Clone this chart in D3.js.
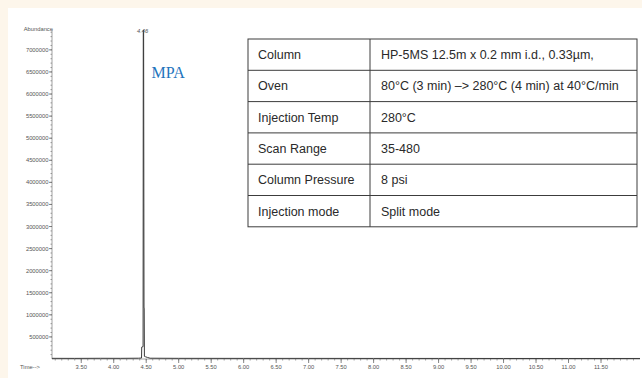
<!DOCTYPE html>
<html>
<head>
<meta charset="utf-8">
<script src="https://cdn.jsdelivr.net/npm/d3@7"></script>
<style>
  html, body { margin: 0; padding: 0; background: #fdf6eb; }
  svg { display: block; }
</style>
</head>
<body>
<div id="chart"></div>
<script>
var width = 642;
var height = 378;

// chromatogram trace (retention time in min, abundance)
var times     = [3.05, 3.40, 3.80, 4.10, 4.38, 4.428, 4.431, 4.452, 4.455, 4.460, 4.466, 4.469, 4.472, 4.49, 4.52, 4.56, 5.00, 6.00, 7.00, 8.00, 9.00, 10.00, 11.00, 12.10];
var abundance = [15000, 14000, 16000, 15000, 18000, 22000, 270000, 280000, 7450000, 7450000, 1150000, 1150000, 60000, 50000, 35000, 18000, 15000, 14000, 14000, 13000, 13000, 12000, 12000, 12000];

var yTicks = [500000, 1000000, 1500000, 2000000, 2500000, 3000000, 3500000, 4000000, 4500000, 5000000, 5500000, 6000000, 6500000, 7000000];
var xTicks = [3.5, 4.0, 4.5, 5.0, 5.5, 6.0, 6.5, 7.0, 7.5, 8.0, 8.5, 9.0, 9.5, 10.0, 10.5, 11.0, 11.5];

var peakTime = 4.46;
var peakLabel = "4.46";
var compound = "MPA";

// GC-MS conditions table
var paramNames  = ["Column", "Oven", "Injection Temp", "Scan Range", "Column Pressure", "Injection mode"];
var paramValues = ["HP-5MS 12.5m x 0.2 mm i.d., 0.33\u00b5m,", "80\u00b0C (3 min) \u2013> 280\u00b0C (4 min) at 40\u00b0C/min", "280\u00b0C", "35-480", "8 psi", "Split mode"];

var svg = d3.select("#chart").append("svg")
  .attr("width", width)
  .attr("height", height);

svg.append("rect")
  .attr("x", 0).attr("y", 0)
  .attr("width", width).attr("height", height)
  .attr("fill", "#fdf6eb");
svg.append("rect")
  .attr("x", 8).attr("y", 8)
  .attr("width", width - 8).attr("height", height - 8)
  .attr("fill", "#ffffff");

var x = d3.scaleLinear().domain([3.05, 12.1]).range([52, 640]);
var y = d3.scaleLinear().domain([0, 7450000]).range([359, 30]);

var labelFont = "Liberation Sans, Arial, sans-serif";

// y axis
var yAxis = svg.append("g").attr("transform", "translate(" + x.range()[0] + ",0)");
yAxis.append("line")
  .attr("y1", y.range()[0]).attr("y2", y.range()[1])
  .attr("stroke", "#8a8a8a").attr("stroke-width", 0.8);
yAxis.selectAll("line.minor")
  .data(d3.range(100000, 7450000, 100000))
  .enter().append("line")
  .attr("class", "minor")
  .attr("x1", -1.5).attr("x2", 0)
  .attr("y1", d => y(d)).attr("y2", d => y(d))
  .attr("stroke", "#777").attr("stroke-width", 0.7);
yAxis.selectAll("line.major")
  .data(yTicks)
  .enter().append("line")
  .attr("class", "major")
  .attr("x1", -3).attr("x2", 0)
  .attr("y1", d => y(d)).attr("y2", d => y(d))
  .attr("stroke", "#666").attr("stroke-width", 0.8);
yAxis.selectAll("text.tick")
  .data(yTicks)
  .enter().append("text")
  .attr("class", "tick")
  .attr("x", -3.5)
  .attr("y", d => y(d) + 2)
  .attr("text-anchor", "end")
  .attr("font-family", labelFont)
  .attr("font-size", 5.8)
  .attr("fill", "#555")
  .text(d => d);
yAxis.append("text")
  .attr("x", 1).attr("y", 31)
  .attr("text-anchor", "end")
  .attr("font-family", labelFont)
  .attr("font-size", 5.8)
  .attr("fill", "#555")
  .text("Abundance");

// x axis
var xAxis = svg.append("g").attr("transform", "translate(0," + y(0) + ")");
xAxis.append("line")
  .attr("x1", x.range()[0]).attr("x2", x.range()[1])
  .attr("stroke", "#8a8a8a").attr("stroke-width", 0.8);
xAxis.selectAll("line.minor")
  .data(d3.range(3.1, 12.1, 0.1))
  .enter().append("line")
  .attr("class", "minor")
  .attr("x1", d => x(d)).attr("x2", d => x(d))
  .attr("y1", 0).attr("y2", 1.5)
  .attr("stroke", "#777").attr("stroke-width", 0.7);
xAxis.selectAll("line.major")
  .data(xTicks)
  .enter().append("line")
  .attr("class", "major")
  .attr("x1", d => x(d)).attr("x2", d => x(d))
  .attr("y1", 0).attr("y2", 4)
  .attr("stroke", "#666").attr("stroke-width", 0.8);
xAxis.selectAll("text.tick")
  .data(xTicks)
  .enter().append("text")
  .attr("class", "tick")
  .attr("x", d => x(d))
  .attr("y", 10)
  .attr("text-anchor", "middle")
  .attr("font-family", labelFont)
  .attr("font-size", 5.8)
  .attr("fill", "#555")
  .text(d => d3.format(".2f")(d));
xAxis.append("text")
  .attr("x", 30).attr("y", 10)
  .attr("text-anchor", "middle")
  .attr("font-family", labelFont)
  .attr("font-size", 5.8)
  .attr("fill", "#555")
  .text("Time-->");

// trace
var line = d3.line()
  .x((d, i) => x(times[i]))
  .y(d => y(d));
svg.append("path")
  .datum(abundance)
  .attr("d", line)
  .attr("fill", "none")
  .attr("stroke", "#3a3a3a")
  .attr("stroke-width", 1);

// peak annotation
svg.append("text")
  .attr("x", x(peakTime) - 1)
  .attr("y", y(d3.max(abundance)) + 3)
  .attr("text-anchor", "middle")
  .attr("font-family", labelFont)
  .attr("font-style", "italic")
  .attr("font-size", 5.8)
  .attr("fill", "#555")
  .text(peakLabel);
svg.append("text")
  .attr("x", x(peakTime) + 8)
  .attr("y", 78)
  .attr("font-family", "Liberation Serif, Times New Roman, serif")
  .attr("font-size", 16)
  .attr("fill", "#1f74bd")
  .text(compound);

// conditions table
var tableX = 248, tableW = 389, divX = 122, tableY = 39, rowH = 31.3;
var table = svg.append("g").attr("transform", "translate(" + tableX + "," + tableY + ")");
table.append("rect")
  .attr("width", tableW).attr("height", rowH * paramNames.length)
  .attr("fill", "#ffffff")
  .attr("stroke", "#3c3c3c").attr("stroke-width", 1);
table.selectAll("line.row")
  .data(d3.range(1, paramNames.length))
  .enter().append("line")
  .attr("class", "row")
  .attr("x1", 0).attr("x2", tableW)
  .attr("y1", d => d * rowH).attr("y2", d => d * rowH)
  .attr("stroke", "#3c3c3c").attr("stroke-width", 1);
table.append("line")
  .attr("x1", divX).attr("x2", divX)
  .attr("y1", 0).attr("y2", rowH * paramNames.length)
  .attr("stroke", "#3c3c3c").attr("stroke-width", 1);
table.selectAll("text.name")
  .data(paramNames)
  .enter().append("text")
  .attr("class", "name")
  .attr("x", 10)
  .attr("y", (d, i) => i * rowH + rowH / 2 + 4.5)
  .attr("font-family", labelFont)
  .attr("font-size", 12.5)
  .attr("fill", "#2a2a2a")
  .text(d => d);
table.selectAll("text.value")
  .data(paramValues)
  .enter().append("text")
  .attr("class", "value")
  .attr("x", divX + 11)
  .attr("y", (d, i) => i * rowH + rowH / 2 + 4.5)
  .attr("font-family", labelFont)
  .attr("font-size", 12.5)
  .attr("fill", "#2a2a2a")
  .text(d => d);
</script>
</body>
</html>
